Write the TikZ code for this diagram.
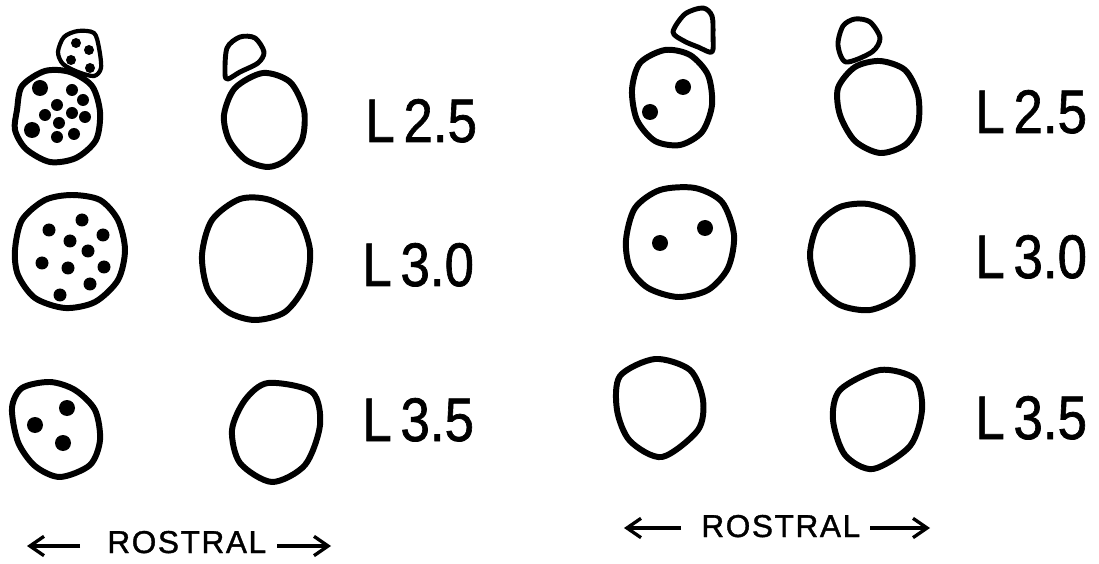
\documentclass[tikz,border=0pt]{standalone}
\usepackage{fontspec}
\setmainfont{Liberation Sans}
\newfontfamily\nivfont[FakeBold=1.2]{Liberation Sans}
\newfontfamily\rotulo[LetterSpace=5,FakeBold=1.2]{Liberation Sans}
\usepackage{tikz}
\usetikzlibrary{arrows.meta}

\begin{document}
\begin{tikzpicture}[x={(0.02cm,0cm)}, y={(0cm,-0.02cm)},
    >={Straight Barb[length=8pt,width=11pt]},
    celula/.style={line width=3.4pt, line join=round},
    casquete/.style={line width=2.8pt, line join=round},
    nivel/.style={font=\nivfont\fontsize{35}{40}\selectfont, anchor=base west, inner sep=0pt, xscale=0.86},
    rostral/.style={font=\rotulo\fontsize{18}{20}\selectfont, anchor=base west, inner sep=0pt},
    flecha/.style={->, line width=1.9pt}]
    \fill[white] (0,0) rectangle (1099,564);
    \useasboundingbox (0,0) rectangle (1099,564);

    % ---------- panel izquierdo ----------
    % L2.5: casquete con puntos y celula grande
    \draw[casquete,line width=2.4pt] plot[smooth cycle] coordinates
        {(58,52) (64,37) (78,31) (94,33) (99,48) (101,68) (94,76) (78,72) (63,64)};
    \foreach \px/\py in {76/43, 89/50, 71/60, 90/68}
        \fill (\px,\py) circle (5);
    \draw[celula] plot[smooth cycle] coordinates
        {(17,110) (22,86) (45,71) (70,72) (92,86) (100,112) (96,140) (76,158) (50,162) (26,149) (15,130)};
    \foreach \px/\py/\r in {40/88/8, 72/90/6, 83/100/6, 57/105/6, 72/113/6, 45/115/6,
                            85/117/6, 59/123/6, 32/130/8, 74/134/6, 57/137/6}
        \fill (\px,\py) circle (\r);
    % contralateral
    \draw[casquete] plot[smooth cycle] coordinates
        {(225,74) (227,48) (240,37) (255,38) (264,52) (258,63) (240,72) (228,79)};
    \draw[celula] plot[smooth cycle] coordinates
        {(263,73) (290,82) (304,110) (302,140) (286,160) (268,167) (246,160) (229,140) (224,115) (235,88)};

    % L3.0
    \draw[celula] plot[smooth cycle] coordinates
        {(15,250) (22,220) (45,200) (72,195) (100,200) (118,220) (125,250) (118,280) (95,302) (65,308) (35,298) (18,275)};
    \foreach \px/\py in {82/220, 49/230, 103/235, 70/241, 88/251, 42/263,
                         68/268, 104/267, 90/284, 60/295}
        \fill (\px,\py) circle (6.5);
    \draw[celula] plot[smooth cycle] coordinates
        {(202,255) (212,220) (240,199) (270,200) (298,218) (310,250) (305,285) (285,312) (255,320) (228,312) (208,290)};

    % L3.5
    \draw[celula] plot[smooth cycle] coordinates
        {(12,408) (22,388) (50,382) (75,390) (95,410) (100,440) (90,465) (60,477) (35,466) (18,442)};
    \foreach \px/\py in {67/408, 35/425, 63/443}
        \fill (\px,\py) circle (8);
    \draw[celula] plot[smooth cycle] coordinates
        {(268,383) (312,392) (320,425) (305,465) (272,482) (240,463) (232,430) (245,400)};

    \node[nivel] (nivIa) at (365,142) {L\,2.5};
    \node[nivel] (nivIb) at (362,286) {L\,3.0};
    \node[nivel] (nivIc) at (362,441) {L\,3.5};

    \node[rostral] (rostI) at (107,553) {ROSTRAL};
    \coordinate (rostIa) at (80,546);
    \coordinate (rostIb) at (27,546);
    \coordinate (rostIc) at (277,546);
    \coordinate (rostId) at (331,546);
    \draw[flecha] (rostIa) -- (rostIb);
    \draw[flecha] (rostIc) -- (rostId);

    % ---------- panel derecho ----------
    % L2.5
    \draw[casquete] plot[smooth cycle] coordinates
        {(673,32) (685,14) (703,8) (712,16) (713,35) (712,52) (698,47) (684,41)};
    \draw[celula] plot[smooth cycle] coordinates
        {(632,90) (640,63) (665,50) (690,55) (708,75) (712,105) (702,132) (680,145) (655,141) (637,120)};
    \foreach \px/\py in {683/87, 650/112}
        \fill (\px,\py) circle (8);
    \draw[casquete] plot[smooth cycle] coordinates
        {(838,45) (843,26) (855,19) (870,22) (880,38) (872,52) (846,62)};
    \draw[celula] plot[smooth cycle] coordinates
        {(880,61) (905,70) (918,95) (918,125) (905,145) (880,153) (855,141) (840,115) (838,88) (855,67)};

    % L3.0
    \draw[celula] plot[smooth cycle] coordinates
        {(626,240) (635,208) (660,190) (695,188) (722,202) (734,235) (728,268) (708,290) (678,297) (648,288) (630,268)};
    \foreach \px/\py in {660/243, 705/228}
        \fill (\px,\py) circle (8);
    \draw[celula] plot[smooth cycle] coordinates
        {(810,255) (818,225) (840,207) (868,204) (895,215) (910,240) (912,270) (898,297) (870,310) (840,305) (818,285)};

    % L3.5
    \draw[celula] plot[smooth cycle] coordinates
        {(655,359) (690,370) (703,400) (698,430) (662,457) (630,441) (617,410) (620,376)};
    \draw[celula] plot[smooth cycle] coordinates
        {(880,370) (915,379) (922,410) (910,446) (873,469) (845,455) (833,420) (840,390)};

    \node[nivel] (nivDa) at (975,133) {L\,2.5};
    \node[nivel] (nivDb) at (975,278) {L\,3.0};
    \node[nivel] (nivDc) at (975,439) {L\,3.5};

    \node[rostral] (rostD) at (701,537) {ROSTRAL};
    \coordinate (rostDa) at (681,528);
    \coordinate (rostDb) at (624,528);
    \coordinate (rostDc) at (870,528);
    \coordinate (rostDd) at (930,528);
    \draw[flecha] (rostDa) -- (rostDb);
    \draw[flecha] (rostDc) -- (rostDd);
\end{tikzpicture}
\end{document}
